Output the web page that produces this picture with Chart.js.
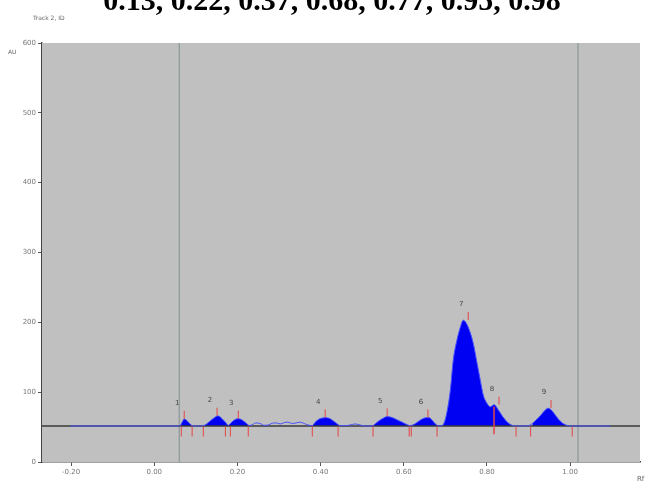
<!DOCTYPE html>
<html>
<head>
<meta charset="utf-8">
<script src="https://cdn.jsdelivr.net/npm/chart.js@4.4.0/dist/chart.umd.min.js"></script>
<style>
  html, body { margin: 0; padding: 0; background: #ffffff; }
  #wrap { position: relative; width: 654px; height: 487px; }
</style>
</head>
<body>
<div id="wrap"><canvas id="c"></canvas></div>
<script>
// ---- data (Rf vs AU) ----
const titleText = "0.13, 0.22, 0.37, 0.68, 0.77, 0.95, 0.98";
const trackText = "Track 2, ID";
const yUnit = "AU";
const xUnit = "Rf";

const rf = [-0.202,-0.082,-0.010,0.038,0.062,0.067,0.072,0.077,0.082,0.087,0.091,0.101,0.111,0.118,0.125,0.132,0.139,0.147,0.151,0.156,0.163,0.171,0.178,0.183,0.190,0.197,0.202,0.209,0.216,0.224,0.228,0.236,0.245,0.255,0.264,0.274,0.284,0.293,0.303,0.313,0.322,0.332,0.341,0.351,0.361,0.370,0.380,0.387,0.394,0.401,0.411,0.421,0.430,0.440,0.447,0.459,0.471,0.483,0.495,0.507,0.524,0.534,0.543,0.553,0.560,0.570,0.582,0.594,0.606,0.615,0.625,0.635,0.644,0.654,0.661,0.668,0.675,0.683,0.690,0.697,0.704,0.712,0.719,0.728,0.736,0.743,0.755,0.767,0.776,0.784,0.791,0.800,0.808,0.817,0.829,0.839,0.851,0.863,0.870,0.880,0.899,0.909,0.918,0.928,0.938,0.947,0.954,0.962,0.971,0.981,0.990,1.000,1.007,1.048,1.096];
const au = [51.6,51.6,51.6,51.6,51.6,57,61.5,60,57,54,52,51.6,51.6,52,54,57.5,61,64.5,66,65.5,62,57,52.5,55,59,61.5,62,61,58,54,52,53.5,56,55,52.5,53,55.5,56,54.5,56.5,57,55,56,57,55,53,52,57,60.5,62.5,63.5,62.5,59,54.5,52,52,53,54.5,53,51.6,51.6,56,60,63.5,65,64,61,57.5,54,52,54,58,61.5,63.5,63.5,60,55,52,52,56,72,103,146,175,193,203,193,170,142,117,96,84,79,82,73,64,56,52,51.6,51.6,52,55,60,66,73,77,75,69,62,56,53,51.6,51.6,51.6,51.6];

const peakNo   = ["1","2","3","4","5","6","7","8","9"];
const peakRf   = [0.072,0.151,0.202,0.411,0.560,0.658,0.755,0.829,0.954];
const peakAU   = [61.5,66,62,63.5,65,63.5,203,82,77];
const peakStart = [0.062,0.118,0.178,0.380,0.524,0.615,0.690,0.817,0.909];
const peakEnd   = [0.091,0.178,0.228,0.447,0.615,0.683,0.817,0.870,1.007];
const boundaryRf = [0.065,0.091,0.118,0.171,0.183,0.226,0.380,0.442,0.526,0.613,0.618,0.680,0.870,0.905,1.005];
const splitRf = [0.817];
const markerRf = [0.060, 1.019];
const baseAU = 51.6;

const xMin = -0.27, xMax = 1.168, xStep = 0.2;
const yMin = 0, yMax = 600, yStep = 100;

// ---- build datasets ----
const tracePts = rf.map((x, i) => ({x: x, y: au[i]}));
const inPeak = x => peakStart.some((s, k) => x >= s - 1e-6 && x <= peakEnd[k] + 1e-6);
const fillPts = rf.map((x, i) => ({x: x, y: inPeak(x) ? au[i] : null}));

const red = 'rgb(228,70,70)';

const datasets = [
  { label: 'peaks', data: fillPts, borderWidth: 0, borderColor: 'rgba(0,0,0,0)', backgroundColor: '#0000f2',
    fill: {value: baseAU}, pointRadius: 0, spanGaps: false, cubicInterpolationMode: 'monotone', order: 3 },
  { label: 'trace', data: tracePts, borderColor: 'rgb(70,80,255)', borderWidth: 1, pointRadius: 0,
    fill: false, cubicInterpolationMode: 'monotone', order: 1 },
  { label: 'baseline', data: [{x: xMin, y: baseAU}, {x: xMax, y: baseAU}], borderColor: '#3a3a3a',
    borderWidth: 1.5, pointRadius: 0, fill: false, order: 2 },
  ...markerRf.map(m => ({ label: 'marker', data: [{x: m, y: yMin}, {x: m, y: yMax}], borderColor: '#7d9290',
    borderWidth: 1, pointRadius: 0, fill: false, order: 5 })),
  { type: 'scatter', label: 'tops', data: peakRf.map((x, i) => ({x: x, y: peakAU[i] + 6})),
    pointStyle: 'line', rotation: 90, pointRadius: 4, borderColor: red, borderWidth: 1, order: 0 },
  { type: 'scatter', label: 'bounds', data: boundaryRf.map(x => ({x: x, y: baseAU - 8})),
    pointStyle: 'line', rotation: 90, pointRadius: 5, borderColor: red, borderWidth: 1, order: 0 },
  ...splitRf.map(s => ({ label: 'split', data: [{x: s, y: baseAU - 12}, {x: s, y: peakAU[7] - 3}],
    borderColor: red, borderWidth: 1.5, pointRadius: 0, fill: false, order: 0 }))
];

const bgPlugin = {
  id: 'bg',
  beforeDatasetsDraw(chart) {
    const {ctx, chartArea: a} = chart;
    ctx.save();
    ctx.fillStyle = '#c0c0c0';
    ctx.fillRect(a.left, a.top, a.right - a.left, a.bottom - a.top);
    ctx.restore();
  }
};

const textPlugin = {
  id: 'texts',
  afterDraw(chart) {
    const ctx = chart.ctx;
    const xs = chart.scales.x, ys = chart.scales.y;
    ctx.save();
    ctx.fillStyle = '#000';
    ctx.font = 'bold 30px "Liberation Serif"';
    ctx.textAlign = 'center';
    ctx.textBaseline = 'alphabetic';
    ctx.fillText(titleText, 332, 10);

    ctx.fillStyle = '#666';
    ctx.font = '6px "DejaVu Sans"';
    ctx.textAlign = 'left';
    ctx.fillText(trackText, 33, 20);
    ctx.fillText(yUnit, 8, 54);
    ctx.font = '7px "DejaVu Sans"';
    ctx.fillText(xUnit, 637, 481);

    ctx.fillStyle = '#444';
    ctx.font = '7px "DejaVu Sans"';
    ctx.textAlign = 'center';
    peakNo.forEach((n, i) => {
      ctx.fillText(n, xs.getPixelForValue(peakRf[i]) - 7, ys.getPixelForValue(peakAU[i]) - 14);
    });
    ctx.restore();
  }
};

new Chart(document.getElementById('c'), {
  type: 'line',
  data: { datasets: datasets },
  options: {
    responsive: true,
    maintainAspectRatio: false,
    animation: false,
    events: [],
    layout: { padding: { top: 43, right: 14, left: 0, bottom: 0 } },
    plugins: { legend: { display: false }, tooltip: { enabled: false }, title: { display: false } },
    scales: {
      x: {
        type: 'linear', min: xMin, max: xMax,
        afterFit: s => { s.height = 25; },
        border: { display: true, color: '#444', width: 1.5 },
        grid: { drawOnChartArea: false, drawTicks: true, tickLength: 4, color: '#555' },
        ticks: { stepSize: xStep, includeBounds: false, padding: 2, color: '#777',
                 font: { size: 7, family: 'DejaVu Sans' }, maxRotation: 0,
                 callback: v => Number(v).toFixed(2) }
      },
      y: {
        type: 'linear', min: yMin, max: yMax,
        afterFit: s => { s.width = 42; },
        border: { display: true, color: '#444', width: 1.5 },
        grid: { drawOnChartArea: false, drawTicks: true, tickLength: 4, color: '#555' },
        ticks: { stepSize: yStep, padding: 2, color: '#777', font: { size: 7, family: 'DejaVu Sans' } }
      }
    }
  },
  plugins: [bgPlugin, textPlugin]
});
</script>
</body>
</html>
